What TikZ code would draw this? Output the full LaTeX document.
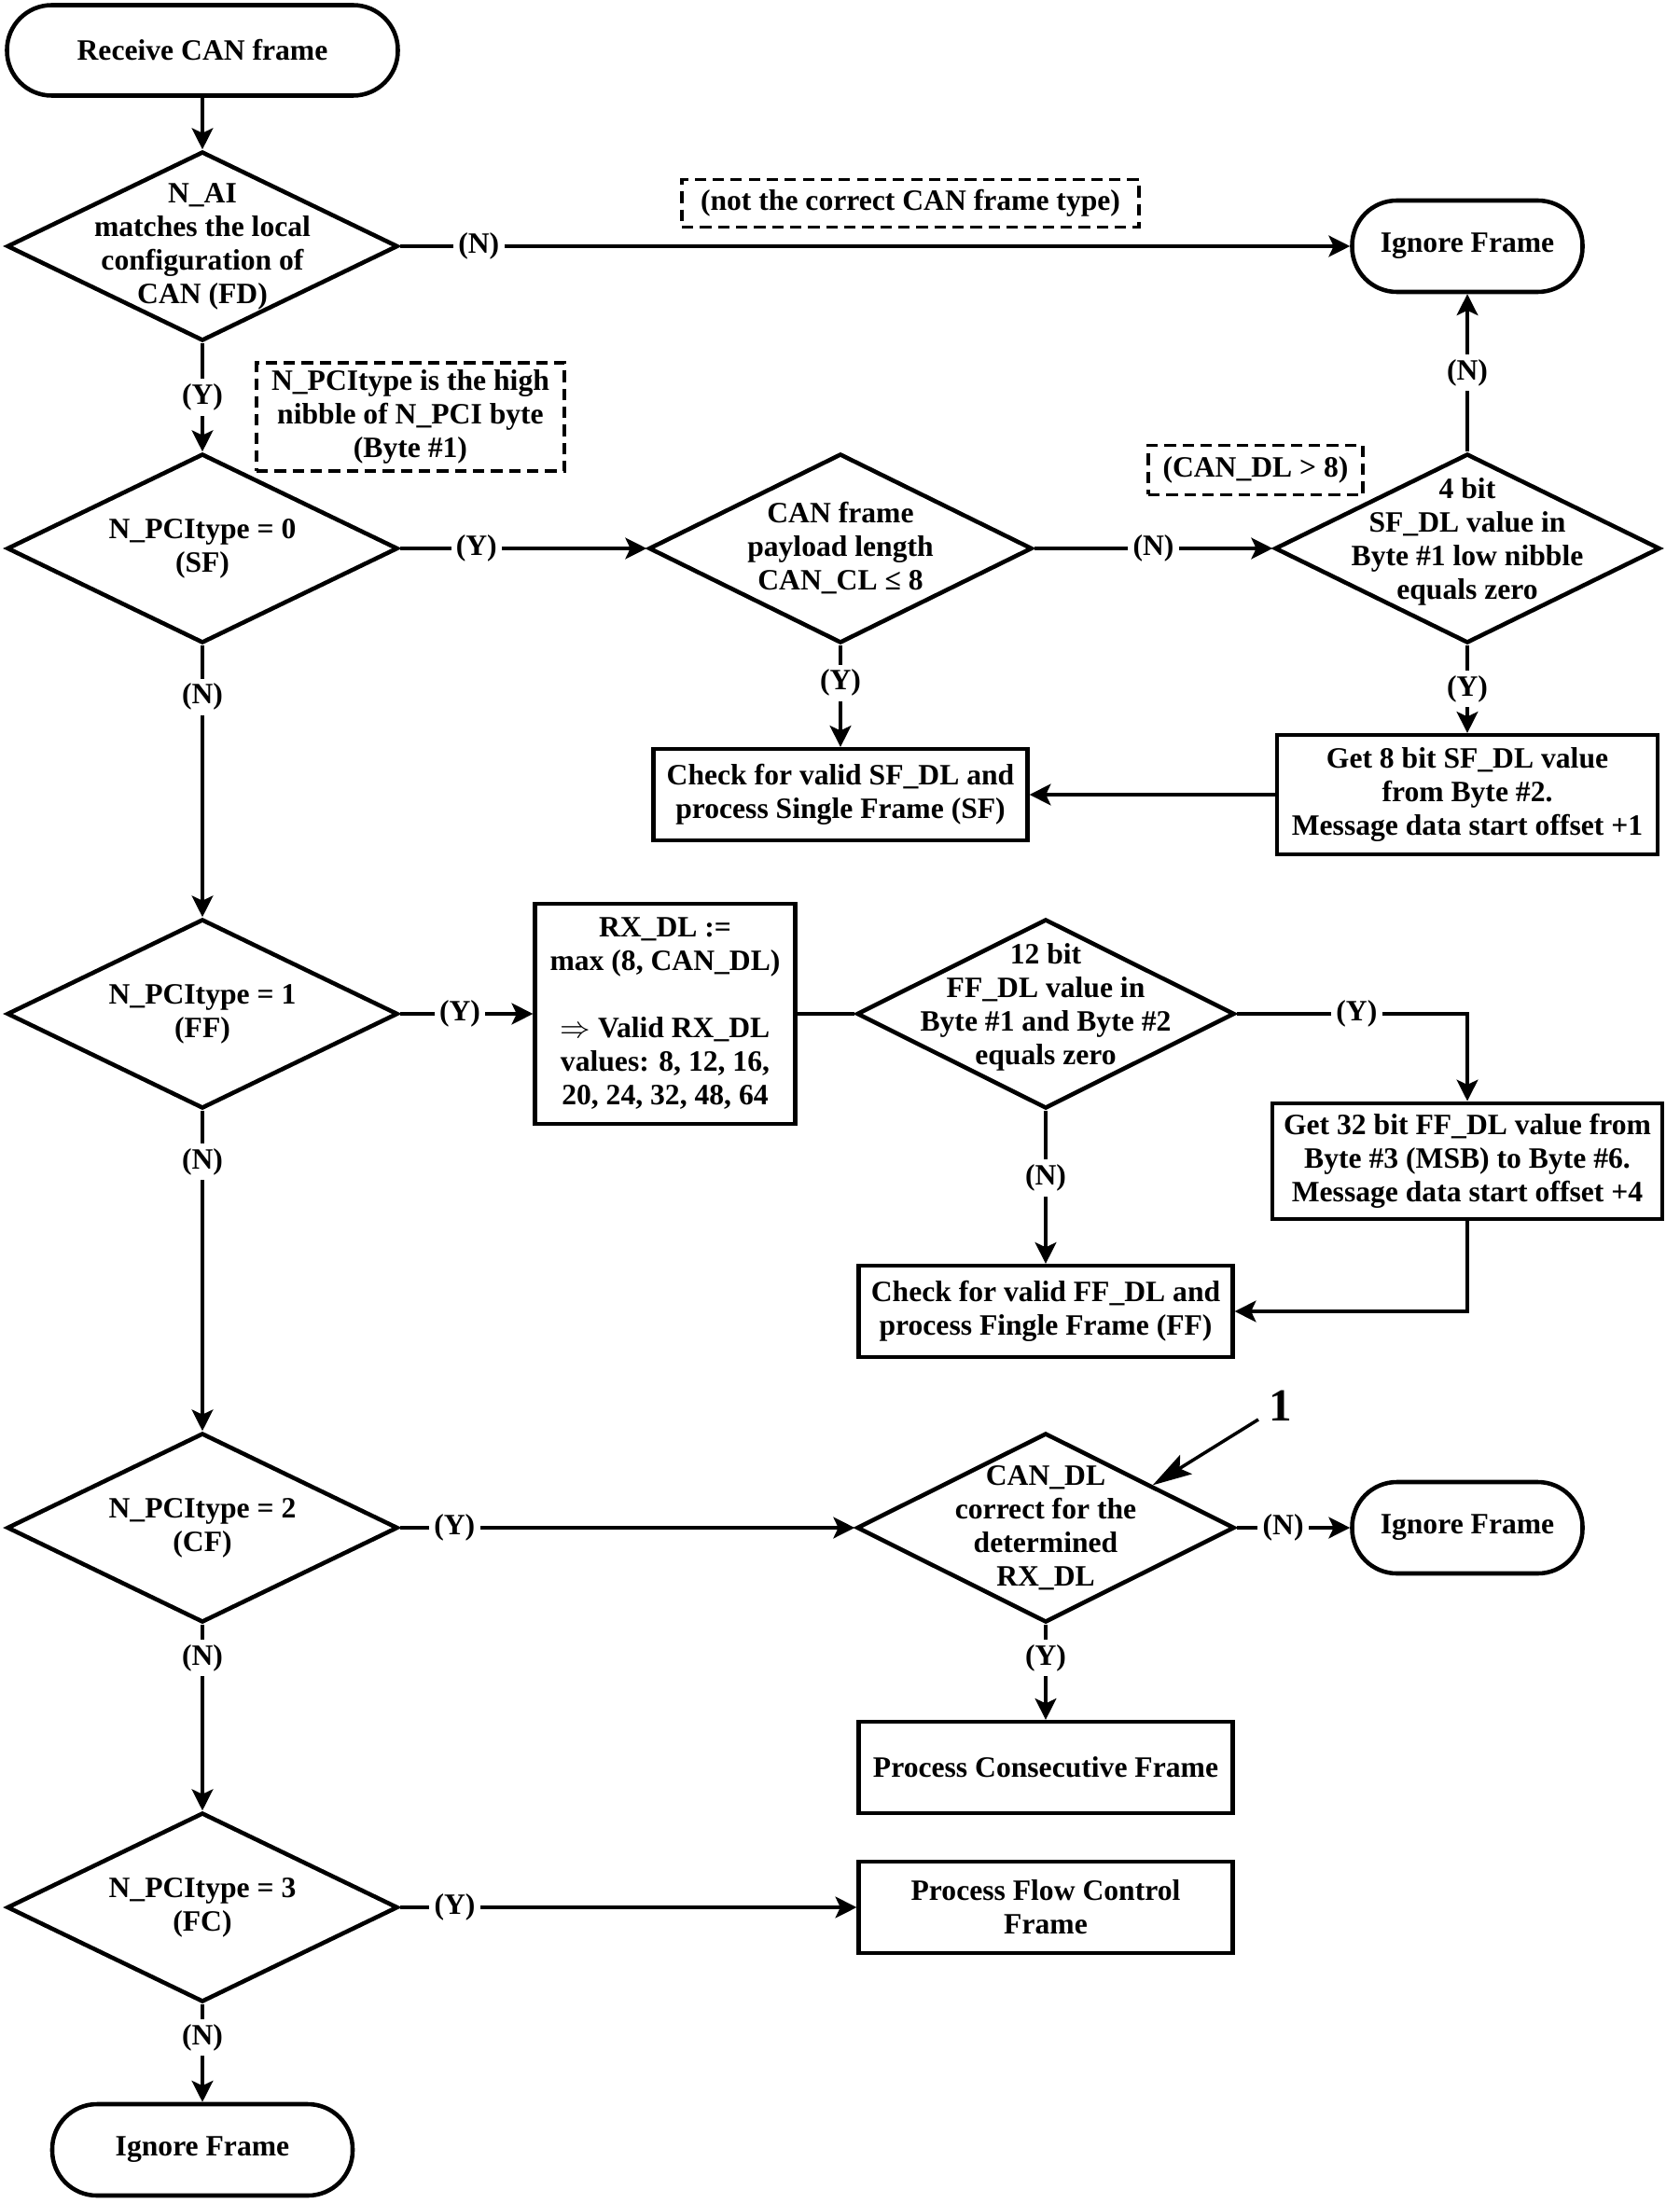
\documentclass[tikz,border=0pt]{standalone}
\usepackage{fontspec}
\setmainfont{Liberation Serif}
\usetikzlibrary{shapes.geometric,arrows.meta,calc}

\begin{document}
\begin{tikzpicture}[
    font=\fontsize{9}{10.25}\selectfont\bfseries,
    line width=1pt,
    >={Stealth[length=6.5pt,width=6.5pt,inset=1.5pt]},
    term/.style={draw,line width=1.3pt,rounded corners=0.48cm,minimum height=0.98cm,align=center},
    decision/.style={draw,shape=diamond,aspect=2.06,line width=1.3pt,inner sep=-0.35cm,minimum width=4.19cm,minimum height=2.03cm,align=center},
    procbox/.style={draw,line width=1.2pt,minimum width=4.01cm,minimum height=0.98cm,align=center},
    notebox/.style={draw,line width=1.1pt,dash pattern=on 3.5pt off 2pt,align=center,inner sep=0pt},
    yn/.style={fill=white,inner sep=1.5pt}
]
\useasboundingbox (0,0) rectangle (18,-23.62);

\node[term,minimum width=4.19cm,minimum height=0.97cm] (recv) at (2.17,-0.54) {Receive CAN frame};
\node[decision] (nai) at (2.17,-2.64) {N\_AI\\matches the local\\configuration of\\CAN (FD)};
\node[term,minimum width=2.47cm] (ign1) at (15.73,-2.64) {Ignore Frame};
\node[notebox,minimum width=4.9cm,minimum height=0.51cm] (nt1) at (9.76,-2.18) {(not the correct CAN frame type)};
\node[notebox,minimum width=3.3cm,minimum height=1.16cm] (nt2) at (4.4,-4.47) {N\_PCItype is the high\\nibble of N\_PCI byte\\(Byte \#1)};

\node[decision] (sf) at (2.17,-5.88) {N\_PCItype = 0\\(SF)};
\node[decision,minimum width=4.11cm] (cl) at (9.01,-5.88) {CAN frame\\payload length\\CAN\_CL ≤ 8};
\node[decision,minimum width=4.13cm] (sfdl) at (15.73,-5.88) {4 bit\\SF\_DL value in\\Byte \#1 low nibble\\equals zero\\[-4.5pt]\mbox{}};
\node[notebox,minimum width=2.3cm,minimum height=0.53cm] (nt3) at (13.46,-5.04) {(CAN\_DL > 8)};
\node[procbox] (chksf) at (9.01,-8.52) {Check for valid SF\_DL and\\process Single Frame (SF)};
\node[procbox,minimum width=4.08cm,minimum height=1.28cm] (get8) at (15.73,-8.52) {Get 8 bit SF\_DL value\\from Byte \#2.\\Message data start offset +1};

\node[decision] (ff) at (2.17,-10.87) {N\_PCItype = 1\\(FF)};
\node[procbox,minimum width=2.79cm,minimum height=2.36cm] (rxdl) at (7.13,-10.87) {RX\_DL :=\\max (8, CAN\_DL)\\[10.25pt]$\Rightarrow$ Valid RX\_DL\\values: 8, 12, 16,\\20, 24, 32, 48, 64};
\node[decision,minimum width=4.05cm] (ffdl) at (11.21,-10.87) {12 bit\\FF\_DL value in\\Byte \#1 and Byte \#2\\equals zero\\[-4.5pt]\mbox{}};
\node[procbox,minimum width=4.04cm,minimum height=1.21cm] (get32) at (15.73,-12.45) {Get 32 bit FF\_DL value from\\Byte \#3 (MSB) to Byte \#6.\\Message data start offset +4};
\node[procbox] (chkff) at (11.21,-14.06) {Check for valid FF\_DL and\\process Fingle Frame (FF)};

\node[decision] (cf) at (2.17,-16.38) {N\_PCItype = 2\\(CF)};
\node[decision,minimum width=4.05cm] (cdl) at (11.21,-16.38) {CAN\_DL\\correct for the\\determined\\RX\_DL};
\node[term,minimum width=2.47cm] (ign2) at (15.73,-16.38) {Ignore Frame};
\node[font=\fontsize{14}{16}\selectfont\bfseries,inner sep=0.1cm] (mark1) at (13.73,-15.07) {1};
\node[procbox] (pcf) at (11.21,-18.95) {Process Consecutive Frame};

\node[decision] (fc) at (2.17,-20.45) {N\_PCItype = 3\\(FC)};
\node[procbox] (pfc) at (11.21,-20.45) {Process Flow Control\\Frame};
\node[term,minimum width=3.22cm] (ign3) at (2.17,-23.05) {Ignore Frame};

\draw[->] (recv) -- (nai);
\draw[->] (nai.east) -- node[yn,pos=0.083] {(N)} (ign1.west);
\draw[->] (nai.south) -- node[yn] {(Y)} (sf.north);
\draw[->] (sf.east) -- node[yn,pos=0.31] {(Y)} (cl.west);
\draw[->] (cl.east) -- node[yn] {(N)} (sfdl.west);
\draw[->] (sfdl.north) -- node[yn] {(N)} (ign1.south);
\draw[->] (cl.south) -- node[yn,pos=0.37] {(Y)} (chksf.north);
\draw[->] (sfdl.south) -- node[yn] {(Y)} (get8.north);
\draw[->] (get8.west) -- (chksf.east);
\draw[->] (sf.south) -- node[yn,pos=0.19] {(N)} (ff.north);

\draw[->] (ff.east) -- node[yn,pos=0.45] {(Y)} (rxdl.west);
\draw (rxdl.east) -- (ffdl.west);
\draw[->] (ffdl.east) -| node[yn,pos=0.26] {(Y)} (get32.north);
\draw[->] (ffdl.south) -- node[yn,pos=0.44] {(N)} (chkff.north);
\draw[->] (get32.south) |- (chkff.east);
\draw[->] (ff.south) -- node[yn,pos=0.16] {(N)} (cf.north);

\draw[->] (cf.east) -- node[yn,pos=0.12] {(Y)} (cdl.west);
\draw[->] (cdl.east) -- node[yn,pos=0.41] {(N)} (ign2.west);
\draw[->] (cdl.south) -- node[yn,pos=0.35] {(Y)} (pcf.north);
\draw[-{Stealth[length=0.42cm,width=0.24cm,inset=0.08cm]}] (mark1) -- ($(cdl.north)!0.56!(cdl.east)$);
\draw[->] (cf.south) -- node[yn,pos=0.18] {(N)} (fc.north);

\draw[->] (fc.east) -- node[yn,pos=0.12] {(Y)} (pfc.west);
\draw[->] (fc.south) -- node[yn,pos=0.34] {(N)} (ign3.north);
\end{tikzpicture}
\end{document}
